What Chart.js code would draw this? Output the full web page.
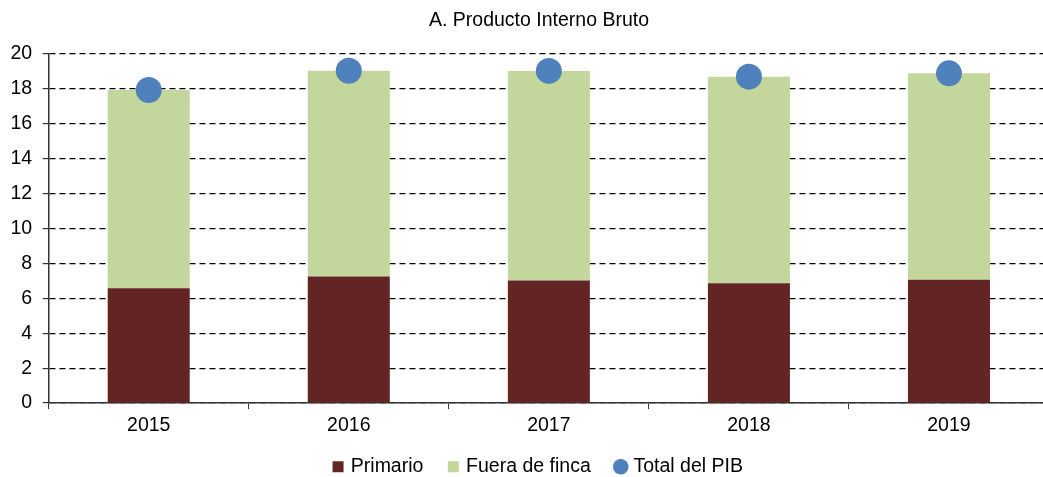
<!DOCTYPE html>
<html>
<head>
<meta charset="utf-8">
<script src="https://cdn.jsdelivr.net/npm/chart.js@4/dist/chart.umd.min.js"></script>
<style>
    html, body { margin: 0; padding: 0; background: #fff; overflow: hidden; }
    #clip { width: 1043px; height: 477px; overflow: hidden; position: relative; }
    #wrap { width: 1078px; height: 477px; position: absolute; left: 0; top: 0; }
</style>
</head>
<body>
<div id="clip"><div id="wrap"><canvas id="pib-chart"></canvas></div></div>
<script>
// Producto Interno Bruto
const years = ['2015', '2016', '2017', '2018', '2019'];
const primario = [6.57, 7.24, 7.01, 6.86, 7.05];
const fueraDeFinca = [11.34, 11.77, 11.99, 11.81, 11.81];
const totalPib = [17.91, 19.01, 19.0, 18.67, 18.86];
const yTicks = [0, 2, 4, 6, 8, 10, 12, 14, 16, 18, 20];

const FONT = 'Arial, "Liberation Sans", sans-serif';
const FONT_SIZE = 19.5;

const baseLegendLabels = Chart.defaults.plugins.legend.labels.generateLabels;

new Chart(document.getElementById('pib-chart').getContext('2d'), {
    data: {
        labels: years,
        datasets: [
            {
                type: 'bar',
                label: 'Primario',
                data: primario,
                backgroundColor: '#632523',
                stack: 'pib',
                barPercentage: 0.82,
                categoryPercentage: 0.5,
                pointStyle: 'rect',
                order: 2,
            },
            {
                type: 'bar',
                label: 'Fuera de finca',
                data: fueraDeFinca,
                backgroundColor: '#c3d69b',
                stack: 'pib',
                barPercentage: 0.82,
                categoryPercentage: 0.5,
                pointStyle: 'rect',
                order: 2,
            },
            {
                type: 'line',
                label: 'Total del PIB',
                data: totalPib,
                showLine: false,
                pointStyle: 'circle',
                pointRadius: 13,
                pointHoverRadius: 13,
                backgroundColor: '#4f81bd',
                borderColor: '#4f81bd',
                borderWidth: 0,
                order: 1,
            },
        ],
    },
    options: {
        responsive: true,
        maintainAspectRatio: false,
        animation: false,
        layout: { padding: { left: 0, right: 0, top: 0, bottom: -9.5 } },
        plugins: {
            title: {
                display: true,
                text: 'A. Producto Interno Bruto',
                color: '#000',
                font: { family: FONT, size: FONT_SIZE, weight: 'normal' },
                padding: { top: 9, bottom: 21 },
            },
            legend: {
                position: 'bottom',
                labels: {
                    color: '#000',
                    font: { family: FONT, size: FONT_SIZE },
                    usePointStyle: true,
                    boxWidth: 6,
                    boxHeight: 11,
                    padding: 14.5,
                    sort: (a, b) => a.datasetIndex - b.datasetIndex,
                    // wider gap between items while the row padding stays tight
                    generateLabels: chart => baseLegendLabels(chart).map(item => (
                        item.datasetIndex < 2 ? { ...item, text: item.text + '  \u200a' } : item
                    )),
                },
            },
            tooltip: { enabled: false },
        },
        scales: {
            x: {
                stacked: true,
                ticks: { color: '#000', font: { family: FONT, size: FONT_SIZE }, padding: 5 },
                grid: {
                    offset: true,
                    drawOnChartArea: false,
                    drawTicks: true,
                    tickLength: 6,
                    color: '#333',
                },
                border: { display: true, color: '#333', width: 1.5 },
            },
            y: {
                stacked: true,
                min: 0,
                max: 20,
                afterBuildTicks: axis => {
                    axis.ticks = yTicks.map(v => ({ value: v }));
                },
                ticks: { color: '#000', font: { family: FONT, size: FONT_SIZE }, padding: 10.5 },
                grid: {
                    color: '#000',
                    lineWidth: 1.2,
                    tickLength: 6,
                    tickColor: '#333',
                },
                border: { display: true, color: '#333', width: 1.5, dash: [6, 4] },
            },
            // empty right-hand strip: the plot runs past the window edge while title and legend stay centred
            spacer: {
                type: 'linear',
                position: 'right',
                display: true,
                ticks: { display: false },
                grid: { display: false },
                border: { display: false },
                afterFit: scale => { scale.width = 29; },
            },
        },
    },
});
</script>
</body>
</html>
